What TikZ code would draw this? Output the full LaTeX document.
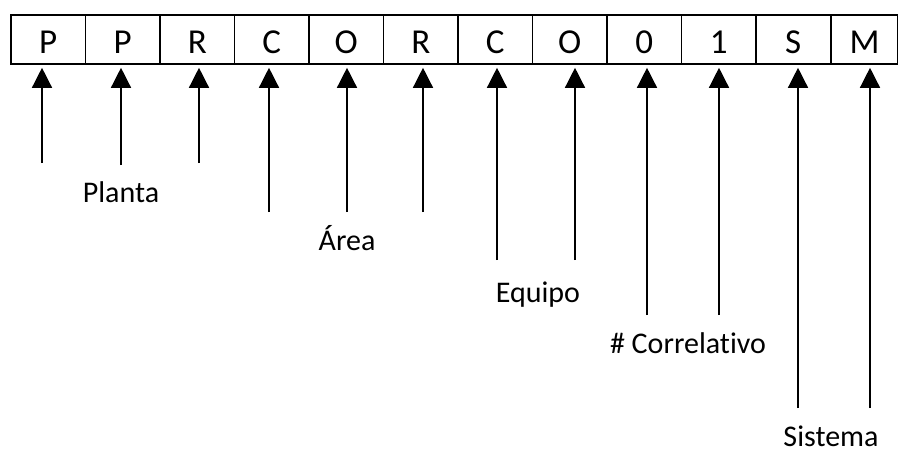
\documentclass[tikz,border=0pt]{standalone}
\usepackage{fontspec}
\setmainfont[Ligatures=NoCommon]{Carlito}
\usetikzlibrary{arrows.meta}

\begin{document}
\begin{tikzpicture}[x=1pt,y=-1pt,
    letra/.style={draw, line width=1.6pt, minimum width=74.5pt, minimum height=49pt,
      inner sep=0pt, text height=27pt, text depth=0pt, font=\fontsize{35}{35}\selectfont},
    etiqueta/.style={anchor=base, inner sep=0pt, font=\fontsize{30}{36}\selectfont},
    flecha/.style={line width=1.4pt, -{Triangle[width=20pt,length=20pt]}, shorten >=3pt}]
\useasboundingbox (0,0) rectangle (899,453);
% fila de letras del codigo
\foreach \l [count=\i] in {P,P,R,C,O,R,C,O,0,1,S}
  \node[letra] (b\i) at ({11+74.5*(\i-0.5)},39.5) {\l};
\node[letra, minimum width=66pt] (b12) at (864.5,39.5) {M};
% pies de las flechas
\coordinate (p1) at (42,163);
\coordinate (p2) at (121,165);
\coordinate (p3) at (199,163);
\coordinate (p4) at (269,212);
\coordinate (p5) at (347,212);
\coordinate (p6) at (423,212);
\coordinate (p7) at (497,260);
\coordinate (p8) at (575,260);
\coordinate (p9) at (647,315);
\coordinate (p10) at (719,315);
\coordinate (p11) at (798,408);
\coordinate (p12) at (870,408);
\foreach \i in {1,...,12}
  \draw[flecha] (p\i) -- (p\i |- b\i.south);
% etiquetas
\node[etiqueta] (planta) at (121,202) {Planta};
\node[etiqueta] (area) at (347,250) {Área};
\node[etiqueta] (equipo) at (538,302) {Equipo};
\node[etiqueta] (correl) at (688,353) {\# Correlativo};
\node[etiqueta] (sistema) at (831,446) {Sistema};
\end{tikzpicture}
\end{document}
